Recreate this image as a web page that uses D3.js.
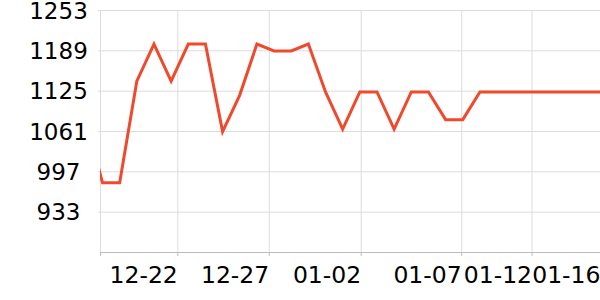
<!DOCTYPE html>
<html>
<head>
<meta charset="utf-8">
<script src="https://cdn.jsdelivr.net/npm/d3@7"></script>
<style>
  body { margin: 0; background: #fff; }
  svg { display: block; font-family: "DejaVu Sans", sans-serif; }
</style>
</head>
<body>
<svg width="600" height="300"></svg>
<script>
// daily values; the first one sits just left of the visible window
const values = [1080, 979, 979, 1140, 1199, 1140, 1199, 1199, 1060, 1118, 1199, 1188, 1188, 1199,
  1123, 1064, 1123, 1123, 1064, 1123, 1123, 1079, 1079, 1123, 1123, 1123, 1123, 1123, 1123, 1123, 1123]
const firstIndex = -1

const yTicks = [933, 997, 1061, 1125, 1189, 1253]
const yMin = 869

// x tick positions (in point index units) and their labels
const xTickPos = [-0.146, 4.36, 9.69, 15.05, 20.91, 25.01, 29.0]
const xTickLabels = ["", "12-22", "12-27", "01-02", "01-07", "01-12", "01-16"]

var svg = d3.select("svg")
var plotLeft = 100, plotRight = 600, plotTop = 10, plotBottom = 252

var x = d3.scaleLinear().domain([-0.146, 29]).range([plotLeft, plotRight])
var y = d3.scaleLinear().domain([yMin, 1253]).range([plotBottom, plotTop])

svg.append("defs").append("clipPath").attr("id", "plot")
  .append("rect").attr("x", plotLeft).attr("y", 0).attr("width", plotRight - plotLeft).attr("height", 300)

// horizontal grid + y labels
var gy = svg.append("g")
  .attr("transform", "translate(98,0)")
  .call(d3.axisLeft(y).tickValues(yTicks).tickSize(-502).tickFormat(d3.format("d")))
gy.select(".domain").remove()
gy.selectAll(".tick line").attr("stroke", "#dcdcdc")
gy.selectAll(".tick text")
  .attr("x", -39.5)
  .attr("dy", "0.36em")
  .style("text-anchor", "middle")
  .style("font-size", "23px")
  .style("font-family", "DejaVu Sans")
  .attr("fill", "#000")

// vertical grid
var gx = svg.append("g")
  .attr("transform", "translate(0," + plotTop + ")")
  .call(d3.axisTop(x).tickValues(xTickPos).tickSize(-(plotBottom - plotTop)).tickFormat(""))
gx.select(".domain").remove()
gx.selectAll(".tick line").attr("stroke", "#dcdcdc")

// x axis
var ax = svg.append("g")
  .attr("transform", "translate(0," + plotBottom + ")")
  .call(d3.axisBottom(x).tickValues(xTickPos).tickSize(4).tickSizeOuter(0)
    .tickFormat(function(d, i) { return xTickLabels[i] }))
ax.select(".domain").attr("stroke", "#bdbdbd")
ax.selectAll(".tick line").attr("stroke", "#bdbdbd")
ax.selectAll(".tick text")
  .attr("y", 0)
  .attr("dy", "31px")
  .style("text-anchor", "end")
  .style("font-size", "23.5px")
  .style("font-family", "DejaVu Sans")
  .attr("fill", "#000")

// line
var line = d3.line()
  .x(function(d, i) { return x(i + firstIndex) })
  .y(function(d) { return y(d) })

svg.append("path")
  .datum(values)
  .attr("clip-path", "url(#plot)")
  .attr("fill", "none")
  .attr("stroke", "#ef4a2d")
  .attr("stroke-width", 3)
  .attr("stroke-linejoin", "miter")
  .attr("d", line)
</script>
</body>
</html>
